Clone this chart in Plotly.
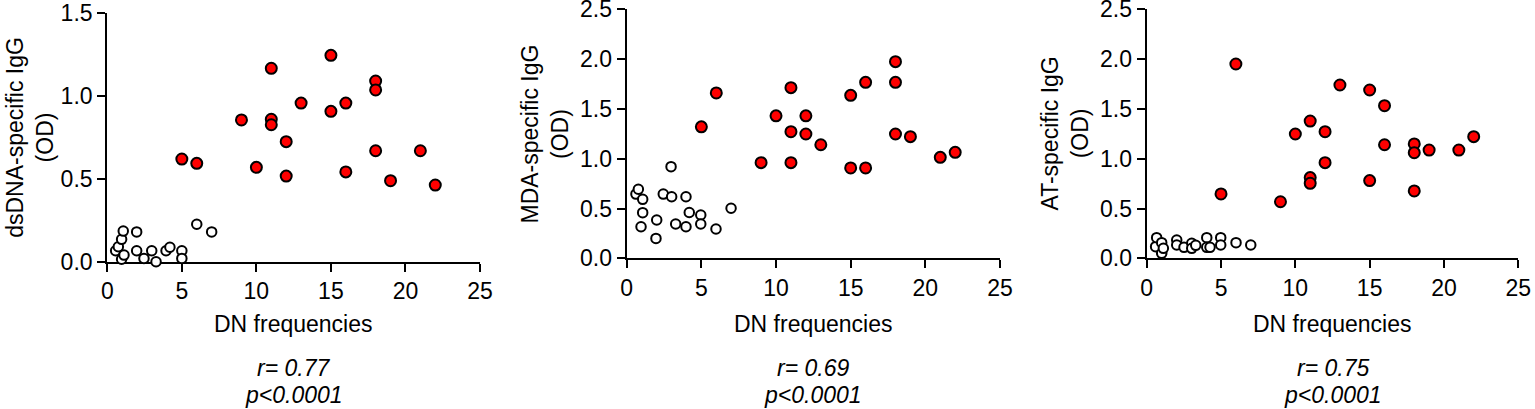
import plotly.graph_objects as go

# ---------------- data ----------------
# Panel 1: dsDNA-specific IgG
ds_open_x = [0.56, 0.74, 0.96, 0.96, 1.07, 1.12, 1.97, 1.97, 2.46, 2.98, 3.27, 3.94, 4.2, 5.0, 5.0, 6.0, 7.0]
ds_open_y = [0.066, 0.09, 0.135, 0.015, 0.185, 0.04, 0.18, 0.066, 0.02, 0.066, 0.0, 0.066, 0.087, 0.066, 0.02, 0.226, 0.18]
ds_red_x = [5, 6, 9, 10, 11, 11, 11, 12, 12, 13, 15, 15, 16, 16, 18, 18, 18, 19, 21, 22]
ds_red_y = [0.62, 0.594, 0.856, 0.57, 1.168, 0.86, 0.827, 0.725, 0.517, 0.958, 1.246, 0.908,
            0.958, 0.542, 1.091, 1.037, 0.67, 0.489, 0.67, 0.463]

# Panel 2: MDA-specific IgG
mda_open_x = [0.62, 0.78, 0.96, 1.07, 1.07, 1.96, 2.01, 2.45, 2.97, 3.01, 3.28, 3.97, 3.97, 4.19, 4.96, 4.96, 5.98, 6.99]
mda_open_y = [0.645, 0.693, 0.317, 0.592, 0.458, 0.2, 0.385, 0.645, 0.92, 0.618, 0.344, 0.618, 0.317, 0.46, 0.435, 0.344, 0.294, 0.502]
mda_red_x = [5, 6, 9, 10, 11, 11, 11, 12, 12, 13, 15, 15, 16, 16, 18, 18, 18, 19, 21, 22]
mda_red_y = [1.32, 1.66, 0.96, 1.43, 1.713, 1.271, 0.96, 1.43, 1.248, 1.14, 1.636, 0.907,
             1.767, 0.907, 1.974, 1.767, 1.248, 1.221, 1.014, 1.064]

# Panel 3: AT-specific IgG
at_open_x = [0.6, 0.67, 1.01, 1.01, 1.12, 2.02, 2.02, 2.51, 3.03, 3.03, 3.3, 4.04, 4.04, 4.26, 4.98, 4.98, 6.01, 7.0]
at_open_y = [0.117, 0.207, 0.157, 0.05, 0.1, 0.184, 0.134, 0.11, 0.15, 0.1, 0.13, 0.207, 0.11, 0.11, 0.207, 0.134, 0.157, 0.134]
at_red_x = [5, 6, 9, 10, 11, 11, 11, 12, 12, 13, 15, 15, 16, 16, 18, 18, 18, 19, 21, 22]
at_red_y = [0.646, 1.951, 0.568, 1.248, 1.378, 0.81, 0.753, 1.271, 0.96, 1.74, 1.69, 0.78,
            1.532, 1.14, 1.148, 1.06, 0.676, 1.087, 1.087, 1.221]

y_titles = ["dsDNA-specific IgG", "MDA-specific IgG", "AT-specific IgG"]
x_title = "DN frequencies"
r_values = ["0.77", "0.69", "0.75"]
p_text = "p&lt;0.0001"
y_max = [1.5, 2.5, 2.5]
y_ticks = [[0.0, 0.5, 1.0, 1.5], [0.0, 0.5, 1.0, 1.5, 2.0, 2.5], [0.0, 0.5, 1.0, 1.5, 2.0, 2.5]]
x_ticks = [0, 5, 10, 15, 20, 25]

# ---------------- layout geometry ----------------
W, H = 1535, 409
FONT = "Liberation Sans, Arial, Helvetica, sans-serif"
x_dom = [(107.3 / W, 480.0 / W), (626.7 / W, 1000.0 / W), (1146.7 / W, 1518.3 / W)]
y_dom = [(1 - 261.7 / H, 1 - 13.3 / H), (1 - 258.3 / H, 1 - 9.3 / H), (1 - 258.3 / H, 1 - 9.3 / H)]
title_shift = [-78, -82, -82]

fig = go.Figure()

panels = [
    (ds_open_x, ds_open_y, ds_red_x, ds_red_y),
    (mda_open_x, mda_open_y, mda_red_x, mda_red_y),
    (at_open_x, at_open_y, at_red_x, at_red_y),
]

annotations = []
for i, (ox, oy, rx, ry) in enumerate(panels):
    xa = "x" if i == 0 else f"x{i+1}"
    ya = "y" if i == 0 else f"y{i+1}"
    fig.add_trace(go.Scatter(
        x=ox, y=oy, mode="markers", xaxis=xa, yaxis=ya, cliponaxis=False,
        marker=dict(size=9.5, color="white", line=dict(color="black", width=2)),
        showlegend=False, hoverinfo="skip"))
    fig.add_trace(go.Scatter(
        x=rx, y=ry, mode="markers", xaxis=xa, yaxis=ya, cliponaxis=False,
        marker=dict(size=11, color="#ff0000", line=dict(color="black", width=2)),
        showlegend=False, hoverinfo="skip"))

    axis_common = dict(
        showline=True, linecolor="black", linewidth=2.2,
        ticks="outside", ticklen=8, tickwidth=2.2, tickcolor="black",
        showgrid=False, zeroline=False, automargin=False,
        ticklabeloverflow="allow",
        tickfont=dict(family=FONT, size=23, color="black"),
        layer="below traces",
    )
    xkey = "xaxis" if i == 0 else f"xaxis{i+1}"
    ykey = "yaxis" if i == 0 else f"yaxis{i+1}"
    fig.update_layout(**{
        xkey: dict(domain=list(x_dom[i]), range=[0, 25], anchor=ya,
                   tickvals=x_ticks, ticktext=[str(t) for t in x_ticks], **axis_common),
        ykey: dict(domain=list(y_dom[i]), range=[0, y_max[i]], anchor=xa,
                   tickvals=y_ticks[i], ticktext=[f"{t:.1f}" for t in y_ticks[i]], **axis_common),
    })

    xc = (x_dom[i][0] + x_dom[i][1]) / 2
    # y-axis title (two lines, rotated)
    annotations.append(dict(
        text=f"{y_titles[i]}<br>(OD)", textangle=-90, showarrow=False,
        xref=f"{xa} domain", yref=f"{ya} domain", x=0, y=0.5,
        xanchor="center", yanchor="middle", xshift=title_shift[i],
        font=dict(family=FONT, size=23, color="black")))
    # x-axis title
    annotations.append(dict(
        text=x_title, showarrow=False, xref="paper", yref="paper",
        x=xc, y=1 - 324 / H, xanchor="center", yanchor="middle",
        font=dict(family=FONT, size=23, color="black")))
    # statistics
    annotations.append(dict(
        text=f"r= {r_values[i]}", showarrow=False, xref="paper", yref="paper",
        x=xc, y=1 - 368 / H, xanchor="center", yanchor="middle",
        font=dict(family=FONT, size=23, color="black", style="italic")))
    annotations.append(dict(
        text=p_text, showarrow=False, xref="paper", yref="paper",
        x=xc, y=1 - 395 / H, xanchor="center", yanchor="middle",
        font=dict(family=FONT, size=23, color="black", style="italic")))

fig.update_layout(
    width=W, height=H,
    margin=dict(l=0, r=0, t=0, b=0, autoexpand=False),
    paper_bgcolor="white", plot_bgcolor="white",
    annotations=annotations,
    font=dict(family=FONT, color="black"),
)

fig.write_html(
    "out.html",
    config={"displayModeBar": False},
    post_script="document.body.style.margin='0px';document.body.style.overflow='hidden';",
)
